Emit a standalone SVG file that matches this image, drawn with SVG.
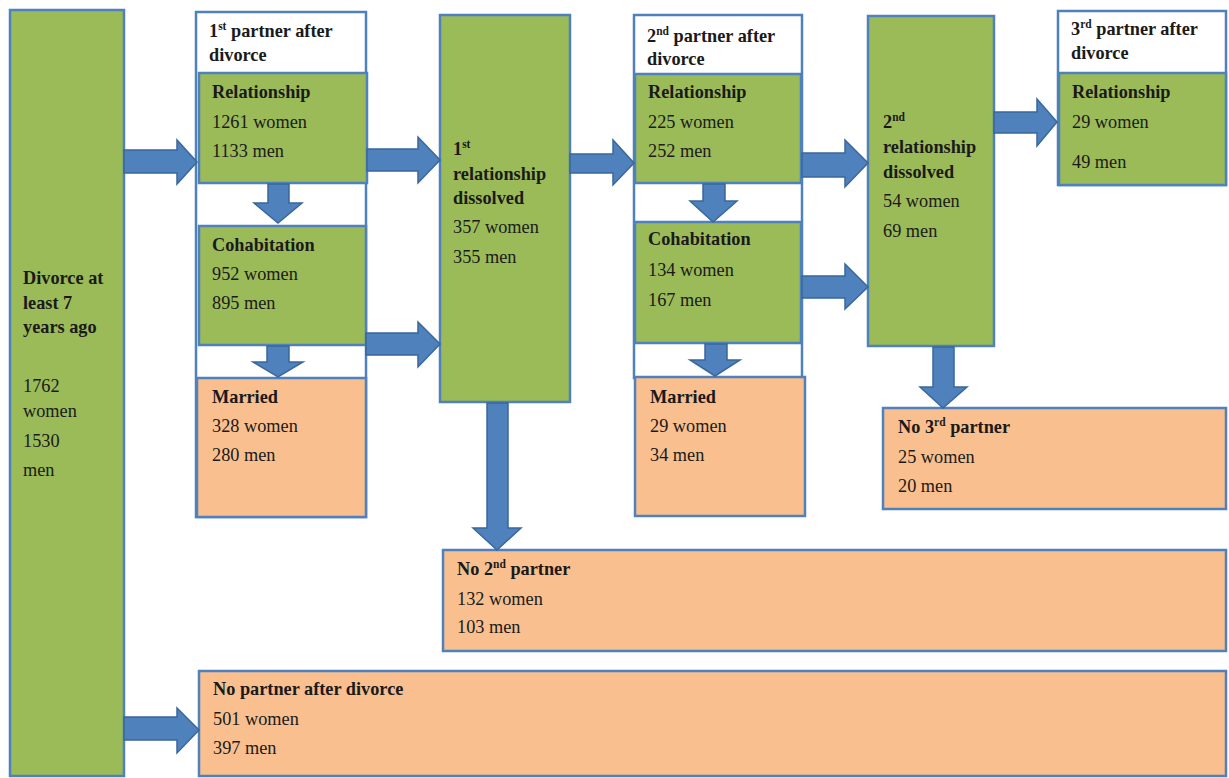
<svg xmlns="http://www.w3.org/2000/svg" width="1229" height="778" viewBox="0 0 1229 778">
<style>
text{font-family:"Liberation Serif","Times New Roman",serif;font-size:18.3px;fill:#1a1a1a}
.b{font-weight:bold}
.sup{font-size:11.5px}
.box{stroke:#4F81BD;stroke-width:2.5}
.g{fill:#9BBB59}
.o{fill:#F9BF8F}
.w{fill:#FFFFFF}
.arr{fill:#4F81BD;stroke:#3A679C;stroke-width:1.5}
</style>
<rect width="1229" height="778" fill="#FFFFFF"/>

<g id="divorce">
<rect class="box g" x="10" y="10" width="114" height="766"/>
<text class="b" x="23" y="284">Divorce at</text>
<text class="b" x="23" y="309">least 7</text>
<text class="b" x="23" y="333">years ago</text>
<text x="23" y="392">1762</text>
<text x="23" y="417">women</text>
<text x="23" y="447">1530</text>
<text x="23" y="476">men</text>
</g>

<g id="col1">
<rect class="box w" x="196" y="12" width="170" height="505"/>
<text class="b" x="209" y="37">1<tspan class="sup" dy="-7">st</tspan><tspan dy="7"> partner after</tspan></text>
<text class="b" x="209" y="61">divorce</text>
</g>
<g id="rel1">
<rect class="box g" x="199" y="73" width="168" height="110"/>
<text class="b" x="212" y="98">Relationship</text>
<text x="212" y="128">1261 women</text>
<text x="212" y="157">1133 men</text>
</g>
<g id="cohab1">
<rect class="box g" x="199" y="226" width="167" height="119"/>
<text class="b" x="212" y="251">Cohabitation</text>
<text x="212" y="280">952 women</text>
<text x="212" y="309">895 men</text>
</g>
<g id="married1">
<rect class="box o" x="197" y="378" width="169" height="139"/>
<text class="b" x="212" y="403">Married</text>
<text x="212" y="432">328 women</text>
<text x="212" y="461">280 men</text>
</g>

<g id="dissolved1">
<rect class="box g" x="440" y="15" width="130" height="387"/>
<text class="b" x="453" y="155">1<tspan class="sup" dy="-7">st</tspan></text>
<text class="b" x="453" y="180">relationship</text>
<text class="b" x="453" y="204">dissolved</text>
<text x="453" y="233">357 women</text>
<text x="453" y="263">355 men</text>
</g>

<g id="col2">
<rect class="box w" x="634" y="15" width="168" height="363"/>
<text class="b" x="647" y="42">2<tspan class="sup" dy="-7">nd</tspan><tspan dy="7"> partner after</tspan></text>
<text class="b" x="647" y="65">divorce</text>
</g>
<g id="rel2">
<rect class="box g" x="635" y="74" width="166" height="109"/>
<text class="b" x="648" y="98">Relationship</text>
<text x="648" y="128">225 women</text>
<text x="648" y="157">252 men</text>
</g>
<g id="cohab2">
<rect class="box g" x="635" y="222" width="166" height="121"/>
<text class="b" x="648" y="245">Cohabitation</text>
<text x="648" y="276">134 women</text>
<text x="648" y="306">167 men</text>
</g>
<g id="married2">
<rect class="box o" x="635" y="377" width="170" height="139"/>
<text class="b" x="650" y="403">Married</text>
<text x="650" y="432">29 women</text>
<text x="650" y="461">34 men</text>
</g>

<g id="dissolved2">
<rect class="box g" x="868" y="16" width="126" height="330"/>
<text class="b" x="883" y="128">2<tspan class="sup" dy="-7">nd</tspan></text>
<text class="b" x="883" y="153">relationship</text>
<text class="b" x="883" y="178">dissolved</text>
<text x="883" y="207">54 women</text>
<text x="883" y="237">69 men</text>
</g>

<g id="col3">
<rect class="box w" x="1058" y="11" width="168" height="174"/>
<text class="b" x="1071" y="35">3<tspan class="sup" dy="-7">rd</tspan><tspan dy="7"> partner after</tspan></text>
<text class="b" x="1071" y="59">divorce</text>
</g>
<g id="rel3">
<rect class="box g" x="1059" y="73" width="167" height="112"/>
<text class="b" x="1072" y="98">Relationship</text>
<text x="1072" y="128">29 women</text>
<text x="1072" y="168">49 men</text>
</g>

<g id="no3">
<rect class="box o" x="883" y="408" width="343" height="101"/>
<text class="b" x="898" y="433">No 3<tspan class="sup" dy="-7">rd</tspan><tspan dy="7"> partner</tspan></text>
<text x="898" y="463">25 women</text>
<text x="898" y="492">20 men</text>
</g>

<g id="no2">
<rect class="box o" x="443" y="550" width="783" height="101"/>
<text class="b" x="457" y="575">No 2<tspan class="sup" dy="-7">nd</tspan><tspan dy="7"> partner</tspan></text>
<text x="457" y="605">132 women</text>
<text x="457" y="633">103 men</text>
</g>

<g id="nopartner">
<rect class="box o" x="199" y="671" width="1027" height="105"/>
<text class="b" x="213" y="695">No partner after divorce</text>
<text x="213" y="725">501 women</text>
<text x="213" y="754">397 men</text>
</g>

<g id="connectors">
<path class="arr" d="M124,150 H177 V140 L197,162 L177,184 V173 H124 Z"/>
<path class="arr" d="M367,149 H418 V137 L440,160 L418,183 V171 H367 Z"/>
<path class="arr" d="M366,333 H418 V322 L440,344 L418,367 V355 H366 Z"/>
<path class="arr" d="M570,154 H613 V140 L634,163 L613,185 V173 H570 Z"/>
<path class="arr" d="M802,153 H845 V140 L868,163 L845,187 V177 H802 Z"/>
<path class="arr" d="M802,276 H845 V264 L868,287 L845,309 V298 H802 Z"/>
<path class="arr" d="M994,112 H1037 V99 L1057,122 L1037,146 V133 H994 Z"/>
<path class="arr" d="M124,717 H177 V708 L199,730 L177,753 V740 H124 Z"/>
<path class="arr" d="M268,184 V203 H254 L278,223 L302,203 H289 V184 Z"/>
<path class="arr" d="M267,346 V362 H253 L278,377 L303,362 H289 V346 Z"/>
<path class="arr" d="M703,184 V201 H690 L713,222 L737,201 H725 V184 Z"/>
<path class="arr" d="M705,344 V360 H690 L715,376 L740,360 H727 V344 Z"/>
<path class="arr" d="M487,403 V528 H473 L497,550 L521,528 H508 V403 Z"/>
<path class="arr" d="M933,347 V387 H920 L943,408 L967,387 H954 V347 Z"/>
</g>
</svg>
